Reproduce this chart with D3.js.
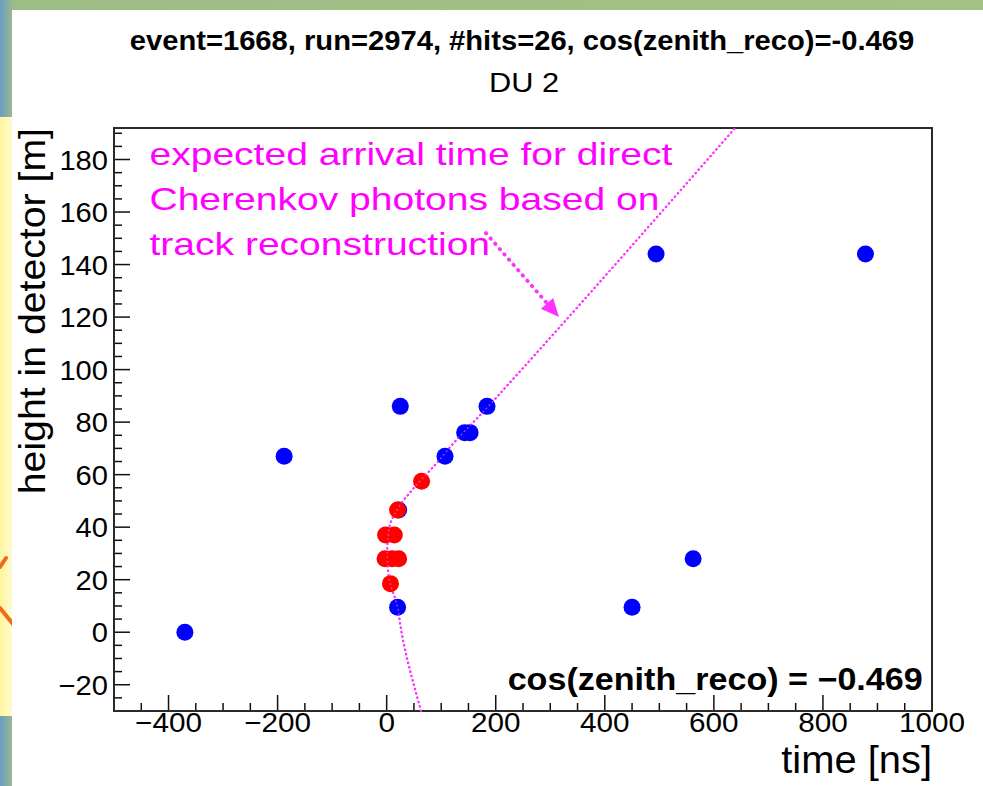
<!DOCTYPE html>
<html>
<head>
<meta charset="utf-8">
<script src="https://cdn.jsdelivr.net/npm/d3@7"></script>
<style>
  html, body { margin: 0; padding: 0; background: #fff; }
  svg { display: block; font-family: "Liberation Sans", Arial, Helvetica, sans-serif; }
</style>
</head>
<body>
<svg id="chart" width="983" height="786"></svg>
<script>
// hits on DU 2 (time in ns, height in m)
var blueTime   = [-370, -188, 20, 450, 562, 25, 184, 143, 153, 107, 494, 878, 22];
var blueHeight = [0, 67, 9.5, 9.5, 28, 86, 86, 76, 76, 67, 144, 144, 46.5];
var redTime    = [64, 20, -2, 14, -3, 10, 22, 7];
var redHeight  = [57.5, 46.5, 37, 37, 28, 28, 28, 18.5];

// expected arrival time of direct Cherenkov light (dotted curve)
var curveTime   = [63, 26, 20, 4, 1, 4, 22, 46, 90, 127, 182, 230, 639];
var curveHeight = [-30, 1.5, 9.5, 21, 30, 39, 47.6, 54, 64, 73, 85, 96, 192];

var xTicks = [-400, -200, 0, 200, 400, 600, 800, 1000];
var yTicks = [-20, 0, 20, 40, 60, 80, 100, 120, 140, 160, 180];

var noteLines = ['expected arrival time for direct', 'Cherenkov photons based on', 'track reconstruction'];
var noteHeight = [178, 160.8, 143.6];
var arrowFrom = [182, 152], arrowTo = [316, 120];

var title = 'event=1668, run=2974, #hits=26, cos(zenith_reco)=-0.469';
var subtitle = 'DU 2';
var cosLabel = 'cos(zenith_reco) = \u22120.469';

var svg = d3.select('#chart');
var W = 983, H = 786;
var plotLeft = 114, plotRight = 932, plotTop = 128, plotBottom = 711;

// widen the glyphs a bit like the slide does
function stretch(sel, k) {
	sel.each(function() {
		var len = this.getComputedTextLength();
		d3.select(this).attr('textLength', len * k).attr('lengthAdjust', 'spacingAndGlyphs');
	});
	return sel;
}

// slide background
var defs = svg.append('defs');
var bg = defs.append('linearGradient').attr('id', 'bg').attr('x1', 0).attr('x2', 1).attr('y1', 0).attr('y2', 0);
bg.append('stop').attr('offset', '0%').attr('stop-color', '#6b9cc6');
bg.append('stop').attr('offset', '1.4%').attr('stop-color', '#9dbd86');
bg.append('stop').attr('offset', '100%').attr('stop-color', '#a4c283');
var yel = defs.append('linearGradient').attr('id', 'yel').attr('x1', 0).attr('x2', 1).attr('y1', 0).attr('y2', 0);
yel.append('stop').attr('offset', '0%').attr('stop-color', '#fff59c');
yel.append('stop').attr('offset', '100%').attr('stop-color', '#fffbd2');

svg.append('rect').attr('width', W).attr('height', H).attr('fill', 'url(#bg)');
svg.append('rect').attr('x', 0).attr('y', 117).attr('width', 12).attr('height', 599).attr('fill', 'url(#yel)');
svg.append('g')
	.attr('stroke', '#f2691c').attr('stroke-width', 4).attr('stroke-linecap', 'round')
	.selectAll('line')
	.data([[0, 567, 6, 558], [0, 608, 13, 624]])
	.enter().append('line')
	.attr('x1', function(d) { return d[0]; })
	.attr('y1', function(d) { return d[1]; })
	.attr('x2', function(d) { return d[2]; })
	.attr('y2', function(d) { return d[3]; });
svg.append('rect').attr('x', 12).attr('y', 10).attr('width', W - 12).attr('height', H - 10).attr('fill', '#fff');

var xScale = d3.scaleLinear().domain([-500, 1000]).range([plotLeft, plotRight]);
var yScale = d3.scaleLinear().domain([-30, 192]).range([plotBottom, plotTop]);

// titles
stretch(svg.append('text')
	.attr('x', 522).attr('y', 50)
	.attr('text-anchor', 'middle')
	.attr('font-size', 27).attr('font-weight', 'bold')
	.text(title), 1.08);
stretch(svg.append('text')
	.attr('x', 524).attr('y', 92)
	.attr('text-anchor', 'middle')
	.attr('font-size', 28)
	.text(subtitle), 1.1);

// ticks inside the frame, ROOT style
var xMinor = d3.range(-500, 1001, 50);
var yMinor = d3.range(-30, 192, 5);
var ticks = svg.append('g').attr('stroke', '#111').attr('stroke-width', 1.5);
ticks.selectAll('.xt')
	.data(xMinor)
	.enter().append('line')
	.attr('x1', function(d) { return xScale(d); })
	.attr('x2', function(d) { return xScale(d); })
	.attr('y1', plotBottom)
	.attr('y2', function(d) { return plotBottom - (d % 200 === 0 ? 16 : 8); });
ticks.selectAll('.yt')
	.data(yMinor)
	.enter().append('line')
	.attr('y1', function(d) { return yScale(d); })
	.attr('y2', function(d) { return yScale(d); })
	.attr('x1', plotLeft)
	.attr('x2', function(d) { return plotLeft + (d % 20 === 0 ? 16 : 8); });

svg.append('rect')
	.attr('x', plotLeft).attr('y', plotTop)
	.attr('width', plotRight - plotLeft).attr('height', plotBottom - plotTop)
	.attr('fill', 'none').attr('stroke', '#2a2a2a').attr('stroke-width', 2);

// tick labels
stretch(svg.append('g').selectAll('text')
	.data(xTicks)
	.enter().append('text')
	.attr('x', function(d) { return xScale(d); })
	.attr('y', 732)
	.attr('text-anchor', 'middle')
	.attr('font-size', 28)
	.text(function(d) { return d < 0 ? '\u2212' + Math.abs(d) : d; }), 1.06);
stretch(svg.append('g').selectAll('text')
	.data(yTicks)
	.enter().append('text')
	.attr('x', 108)
	.attr('y', function(d) { return yScale(d); })
	.attr('dy', '0.36em')
	.attr('text-anchor', 'end')
	.attr('font-size', 28)
	.text(function(d) { return d < 0 ? '\u2212' + Math.abs(d) : d; }), 1.04);

// axis titles
stretch(svg.append('text')
	.attr('x', plotRight).attr('y', 773)
	.attr('text-anchor', 'end')
	.attr('font-size', 38)
	.text('time [ns]'), 1.05);
stretch(svg.append('text')
	.attr('transform', 'translate(45,' + plotTop + ') rotate(-90)')
	.attr('text-anchor', 'end')
	.attr('font-size', 37)
	.text('height in detector [m]'), 1.06);

// expected arrival curve
var pts = curveTime.map(function(t, i) { return [t, curveHeight[i]]; });
var line = d3.line()
	.x(function(d) { return xScale(d[0]); })
	.y(function(d) { return yScale(d[1]); })
	.curve(d3.curveMonotoneY);
svg.append('path')
	.attr('d', line(pts))
	.attr('fill', 'none')
	.attr('stroke', '#ff00ff')
	.attr('stroke-width', 2.2)
	.attr('stroke-linecap', 'round')
	.attr('stroke-dasharray', '0.5,4');

// hits
var blue = blueTime.map(function(t, i) { return [t, blueHeight[i]]; });
var red = redTime.map(function(t, i) { return [t, redHeight[i]]; });
svg.append('g').selectAll('circle')
	.data(blue)
	.enter().append('circle')
	.attr('cx', function(d) { return xScale(d[0]); })
	.attr('cy', function(d) { return yScale(d[1]); })
	.attr('r', 8.5)
	.attr('fill', '#0000ff');
svg.append('g').selectAll('circle')
	.data(red)
	.enter().append('circle')
	.attr('cx', function(d) { return xScale(d[0]); })
	.attr('cy', function(d) { return yScale(d[1]); })
	.attr('r', 8.5)
	.attr('fill', '#ff0000');

// redraw the curve dots faintly over the markers
svg.append('path')
	.attr('d', line(pts))
	.attr('fill', 'none')
	.attr('stroke', '#ff66ff')
	.attr('stroke-opacity', 0.6)
	.attr('stroke-width', 1.6)
	.attr('stroke-linecap', 'round')
	.attr('stroke-dasharray', '0.5,4');

// annotation
stretch(svg.append('g').selectAll('text')
	.data(noteLines)
	.enter().append('text')
	.attr('x', xScale(-435))
	.attr('y', function(d, i) { return yScale(noteHeight[i]); })
	.attr('font-size', 32)
	.attr('fill', '#ff00ff')
	.text(function(d) { return d; }), 1.22);

var ax1 = xScale(arrowFrom[0]), ay1 = yScale(arrowFrom[1]);
var ax2 = xScale(arrowTo[0]), ay2 = yScale(arrowTo[1]);
var ang = Math.atan2(ay2 - ay1, ax2 - ax1);
var head = 20;
svg.append('line')
	.attr('x1', ax1).attr('y1', ay1)
	.attr('x2', ax2 - Math.cos(ang) * head * 0.8).attr('y2', ay2 - Math.sin(ang) * head * 0.8)
	.attr('stroke', '#ff33ff')
	.attr('stroke-width', 3.8)
	.attr('stroke-linecap', 'round')
	.attr('stroke-dasharray', '0.5,6.5');
svg.append('path')
	.attr('d', d3.line()([
		[ax2, ay2],
		[ax2 - head * Math.cos(ang - 0.42), ay2 - head * Math.sin(ang - 0.42)],
		[ax2 - head * Math.cos(ang + 0.42), ay2 - head * Math.sin(ang + 0.42)]
	]) + 'Z')
	.attr('fill', '#ff33ff');

// fitted zenith label
stretch(svg.append('text')
	.attr('x', xScale(983)).attr('y', yScale(-22))
	.attr('text-anchor', 'end')
	.attr('font-size', 31).attr('font-weight', 'bold')
	.text(cosLabel), 1.1);
</script>
</body>
</html>
